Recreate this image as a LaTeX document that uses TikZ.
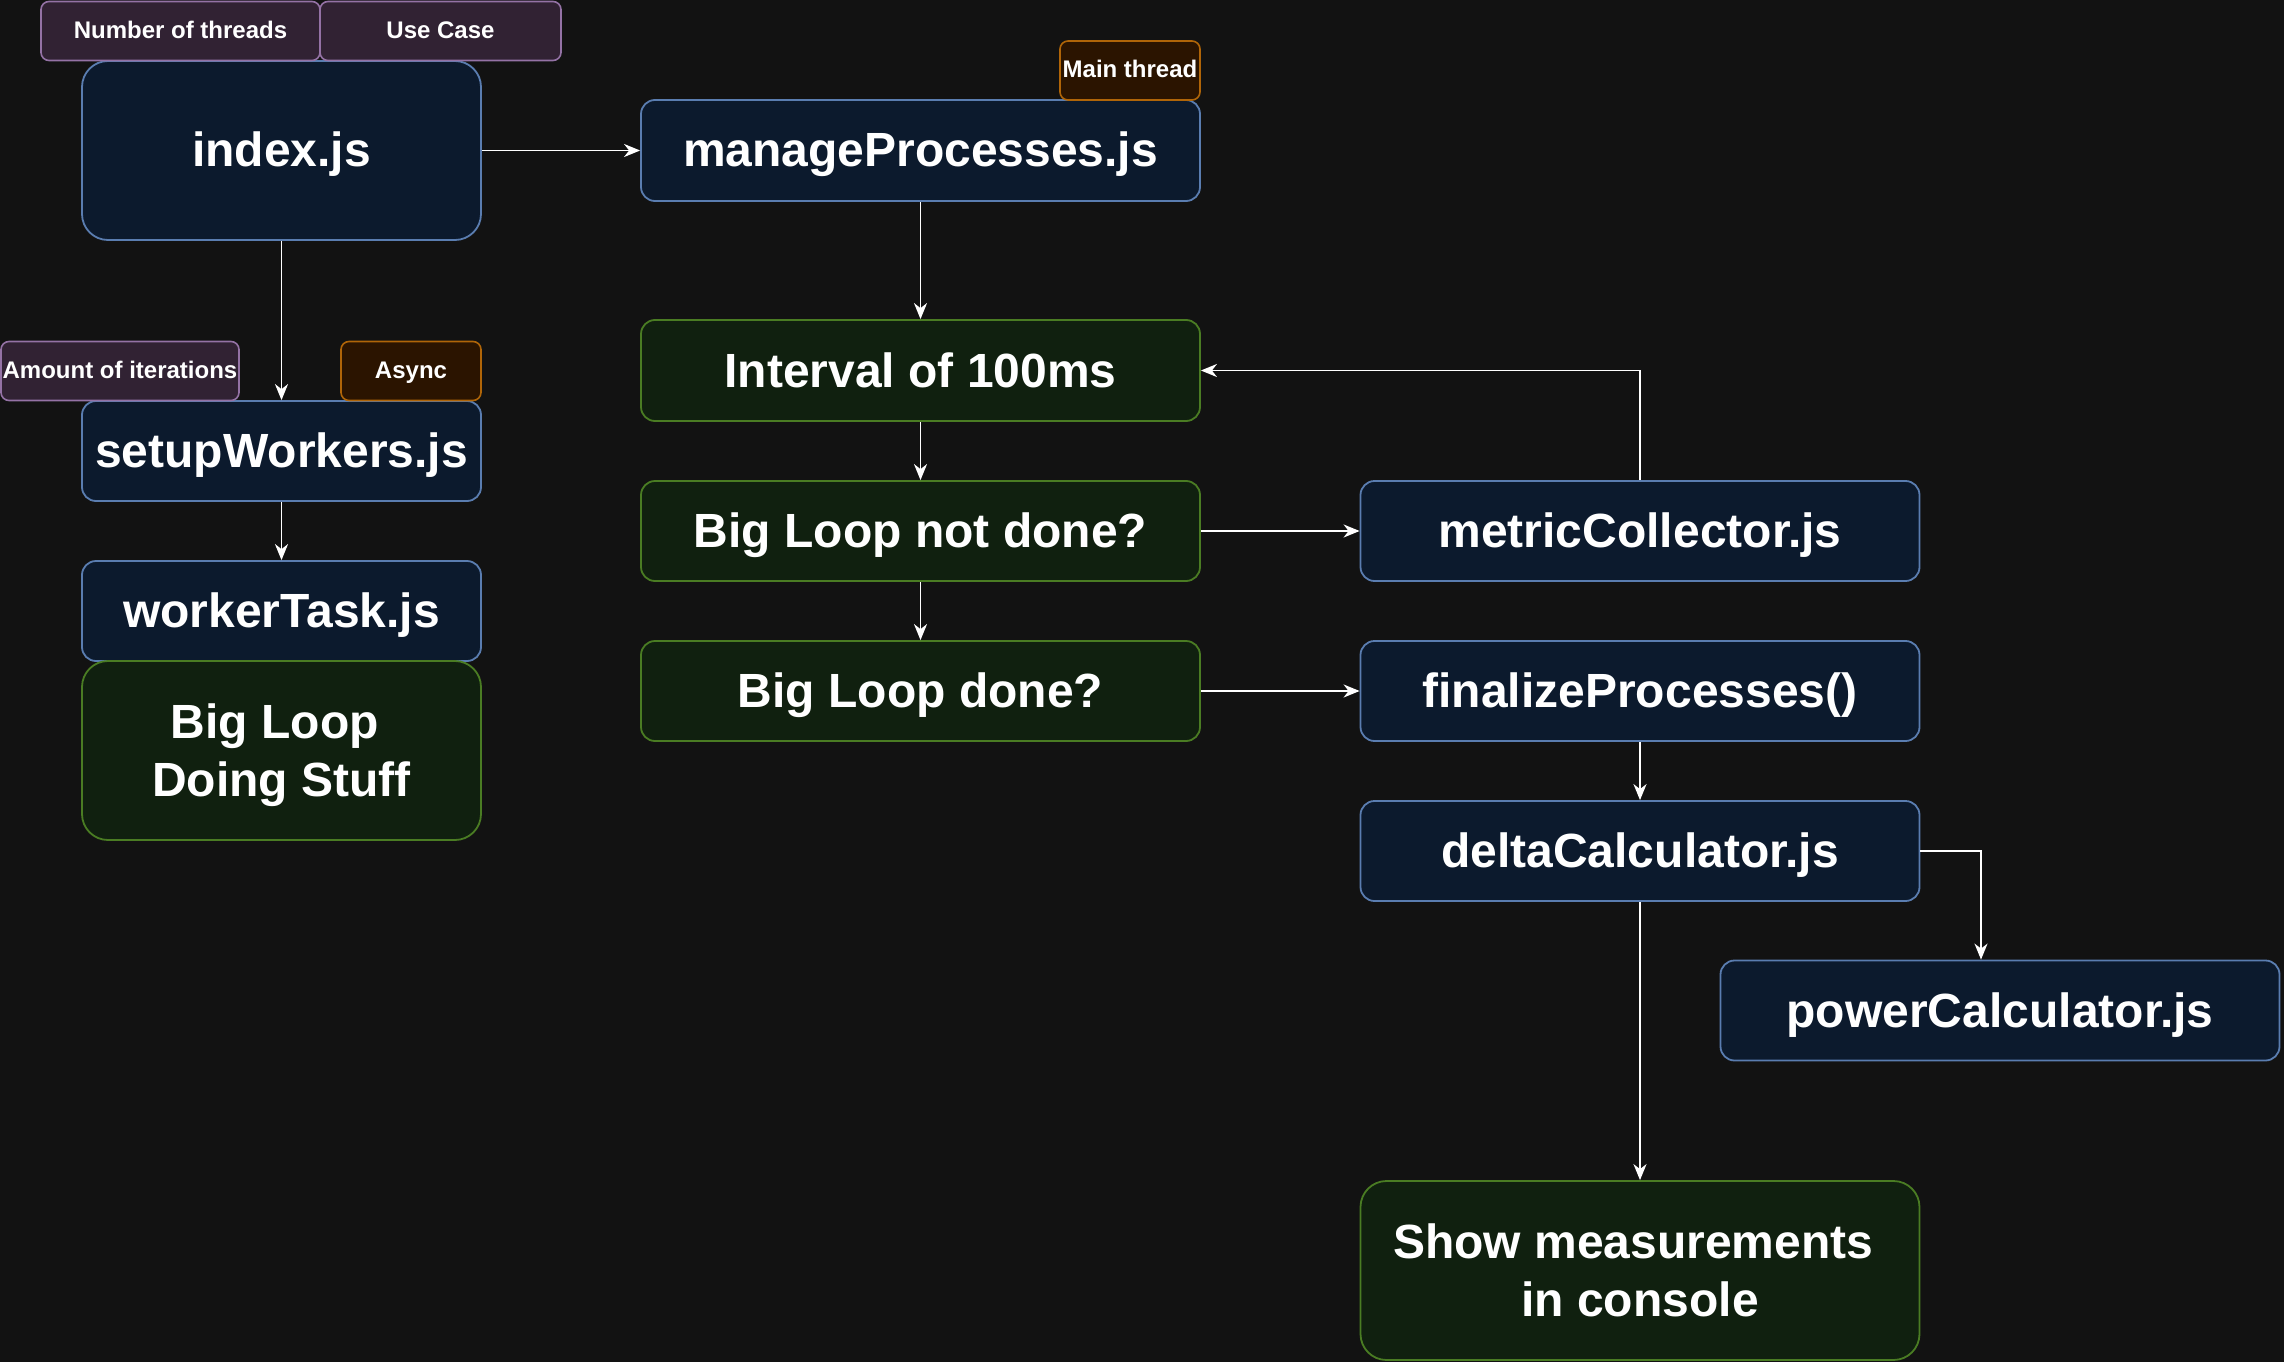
\documentclass[tikz,border=0pt]{standalone}
\usepackage{fontspec}
\setmainfont{Liberation Sans}
\usetikzlibrary{arrows.meta}
\definecolor{bg}{HTML}{121212}
\definecolor{bluefill}{HTML}{0C1A2D}
\definecolor{bluedraw}{HTML}{5A7DB0}
\definecolor{greenfill}{HTML}{10200F}
\definecolor{greendraw}{HTML}{4A7C23}
\definecolor{purplefill}{HTML}{312233}
\definecolor{purpledraw}{HTML}{9472A5}
\definecolor{orangefill}{HTML}{2B1400}
\definecolor{orangedraw}{HTML}{B06508}
\tikzset{
  box/.style={rectangle, inner sep=0pt, line width=1.8pt, text=white, align=center,
    font=\fontsize{48}{58}\selectfont\bfseries, rounded corners=14pt},
  oneline/.style={text height=42pt, text depth=9pt},
  twoline/.style={text height=100pt, text depth=9pt},
  bluebox/.style={box, oneline, fill=bluefill, draw=bluedraw},
  greenbox/.style={box, oneline, fill=greenfill, draw=greendraw},
  greenbig/.style={box, twoline, fill=greenfill, draw=greendraw, rounded corners=26pt},
  tag/.style={rectangle, inner sep=0pt, line width=1.6pt, text=white, align=center,
    font=\fontsize{24}{29}\selectfont\bfseries, rounded corners=8pt,
    text height=18pt, text depth=3pt},
  purpletag/.style={tag, fill=purplefill, draw=purpledraw},
  orangetag/.style={tag, fill=orangefill, draw=orangedraw},
  conn/.style={draw=white, line width=1.9pt, -{Stealth[length=16pt,width=13pt,inset=5pt]}},
}
\begin{document}
\begin{tikzpicture}[x=1pt,y=-1pt]
\fill[bg] (0,0) rectangle (2284,1362);
\useasboundingbox (0,0) rectangle (2284,1362);
% left column
\node[bluebox, rounded corners=26pt, minimum width=399pt, minimum height=179pt] (index) at (281.5,150.5) {index.js};
\node[purpletag, minimum width=279pt, minimum height=59pt] (nthreads) at (180.5,31) {Number of threads};
\node[purpletag, minimum width=241pt, minimum height=59pt] (usecase) at (440.5,31) {Use Case};
\node[bluebox, minimum width=399pt, minimum height=100pt] (setup) at (281.5,451) {setupWorkers.js};
\node[purpletag, minimum width=238pt, minimum height=59pt] (amount) at (120,371) {Amount of iterations};
\node[orangetag, minimum width=140pt, minimum height=59pt] (async) at (411,371) {Async};
\node[bluebox, minimum width=399pt, minimum height=100pt] (worker) at (281.5,611) {workerTask.js};
\node[greenbig, minimum width=399pt, minimum height=179pt] (bigloop) at (281.5,750.5) {Big Loop\hspace*{0.278em}\\Doing Stuff};
% middle column
\node[bluebox, minimum width=559pt, minimum height=101pt] (manage) at (920.5,150.5) {manageProcesses.js};
\node[orangetag, minimum width=140pt, minimum height=59pt] (mainthread) at (1130,70.5) {Main thread};
\node[greenbox, minimum width=559pt, minimum height=101pt] (interval) at (920.5,370.5) {Interval of 100ms};
\node[greenbox, minimum width=559pt, minimum height=100pt] (blnd) at (920.5,531) {Big Loop not done?};
\node[greenbox, minimum width=559pt, minimum height=100pt] (bld) at (920.5,691) {Big Loop done?};
% right column
\node[bluebox, minimum width=559pt, minimum height=100pt] (metric) at (1640,531) {metricCollector.js};
\node[bluebox, minimum width=559pt, minimum height=100pt] (final) at (1640,691) {finalizeProcesses()};
\node[bluebox, minimum width=559pt, minimum height=100pt] (delta) at (1640,851) {deltaCalculator.js};
\node[bluebox, minimum width=559pt, minimum height=100pt] (power) at (2000,1010.5) {powerCalculator.js};
\node[greenbig, minimum width=559pt, minimum height=179pt] (show) at (1640,1270.5) {Show measurements\hspace*{0.278em}\\in console};
% connectors
\draw[conn] (index.east) -- (manage.west);
\draw[conn] (index.south) -- (setup.north);
\draw[conn] (setup.south) -- (worker.north);
\draw[conn] (manage.south) -- (interval.north);
\draw[conn] (interval.south) -- (blnd.north);
\draw[conn] (blnd.south) -- (bld.north);
\draw[conn] (blnd.east) -- (metric.west);
\draw[conn] (bld.east) -- (final.west);
\draw[conn] (metric.north) |- (interval.east);
\draw[conn] (final.south) -- (delta.north);
\draw[conn] (delta.east) -| ([xshift=-19pt]power.north);
\draw[conn] (delta.south) -- (show.north);
\end{tikzpicture}
\end{document}
